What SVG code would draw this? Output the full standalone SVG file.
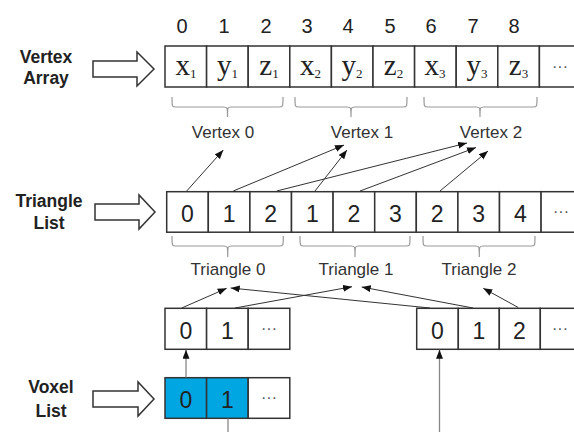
<svg xmlns="http://www.w3.org/2000/svg" width="574" height="432" viewBox="0 0 574 432">
<style>
.cell{fill:#fff;stroke:#333;stroke-width:1.5}
.blue{fill:#00a6e2;stroke:#333;stroke-width:1.5}
.var{font-family:"Liberation Serif",serif;font-size:29px;fill:#222;text-anchor:middle}
.sub{font-size:13px}
.dig{font-family:"Liberation Sans",Arial,sans-serif;font-size:23px;fill:#222;text-anchor:middle}
.idx{font-family:"Liberation Sans",Arial,sans-serif;font-size:20px;fill:#222;text-anchor:middle}
.dots{font-family:"Liberation Sans",Arial,sans-serif;font-size:16px;fill:#555;text-anchor:middle}
.lbl{font-family:"Liberation Sans",Arial,sans-serif;font-size:17.5px;font-weight:bold;fill:#222;text-anchor:middle}
.cap{font-family:"Liberation Sans",Arial,sans-serif;font-size:17px;fill:#333;text-anchor:middle}
.brace{fill:none;stroke:#999;stroke-width:1.2}
.big{fill:#fff;stroke:#333;stroke-width:1.5}
.conn{stroke:#333;stroke-width:1;fill:none}
.vx{stroke:#888;stroke-width:1.3;fill:none}
</style>
<defs>
<marker id="ah" markerUnits="userSpaceOnUse" markerWidth="10" markerHeight="8" refX="9" refY="3.5" orient="auto">
<path d="M0,0 L9,3.5 L0,7 z" fill="#111"/>
</marker>
</defs>

<g id="label-vertex-array">
<text class="lbl" x="46" y="63">Vertex</text>
<text class="lbl" x="46" y="84">Array</text>
<polygon class="big" points="93,61 137,61 137,52 154,69 137,86 137,77 93,77"/>
</g>
<g id="label-triangle-list">
<text class="lbl" x="49" y="207">Triangle</text>
<text class="lbl" x="49" y="229">List</text>
<polygon class="big" points="95,204 139,204 139,195 155,212 139,229 139,220 95,220"/>
</g>
<g id="label-voxel-list">
<text class="lbl" x="51" y="393">Voxel</text>
<text class="lbl" x="51" y="417">List</text>
<polygon class="big" points="93,391 138,391 138,382 154,399 138,416 138,407 93,407"/>
</g>

<g id="vertex-array">
<g class="idx">
<text x="182" y="33">0</text><text x="224" y="33">1</text><text x="266" y="33">2</text>
<text x="307" y="33">3</text><text x="348" y="33">4</text><text x="390" y="33">5</text>
<text x="431" y="33">6</text><text x="473" y="33">7</text><text x="514" y="33">8</text>
</g>
<rect class="cell" x="165" y="46" width="41.6" height="41"/>
<rect class="cell" x="206.6" y="46" width="41.6" height="41"/>
<rect class="cell" x="248.2" y="46" width="41.6" height="41"/>
<rect class="cell" x="289.8" y="46" width="41.6" height="41"/>
<rect class="cell" x="331.4" y="46" width="41.6" height="41"/>
<rect class="cell" x="373" y="46" width="41.6" height="41"/>
<rect class="cell" x="414.6" y="46" width="41.6" height="41"/>
<rect class="cell" x="456.2" y="46" width="41.6" height="41"/>
<rect class="cell" x="497.8" y="46" width="41.6" height="41"/>
<rect class="cell" x="539.4" y="46" width="41.6" height="41"/>
<text class="var" x="186" y="75">x<tspan class="sub" dy="3">1</tspan></text>
<text class="var" x="227.5" y="75">y<tspan class="sub" dy="3">1</tspan></text>
<text class="var" x="269" y="75">z<tspan class="sub" dy="3">1</tspan></text>
<text class="var" x="310.5" y="75">x<tspan class="sub" dy="3">2</tspan></text>
<text class="var" x="352" y="75">y<tspan class="sub" dy="3">2</tspan></text>
<text class="var" x="393.5" y="75">z<tspan class="sub" dy="3">2</tspan></text>
<text class="var" x="435" y="75">x<tspan class="sub" dy="3">3</tspan></text>
<text class="var" x="477" y="75">y<tspan class="sub" dy="3">3</tspan></text>
<text class="var" x="518.5" y="75">z<tspan class="sub" dy="3">3</tspan></text>
<text class="dots" x="560" y="72">···</text>
</g>

<g id="vertex-braces">
<path class="brace" d="M172,97 C172,107 172,107 176,107 H223.5 C227.5,107 227.5,107 227.5,117 C227.5,107 227.5,107 231.5,107 H279 C283,107 283,107 283,97"/>
<path class="brace" d="M295,97 C295,107 295,107 299,107 H347 C351,107 351,107 351,117 C351,107 351,107 355,107 H403 C407,107 407,107 407,97"/>
<path class="brace" d="M424,97 C424,107 424,107 428,107 H476 C480,107 480,107 480,117 C480,107 480,107 484,107 H533 C537,107 537,107 537,97"/>
<text class="cap" x="223" y="138">Vertex 0</text>
<text class="cap" x="362" y="138">Vertex 1</text>
<text class="cap" x="491" y="138">Vertex 2</text>
</g>

<g id="triangle-list">
<rect class="cell" x="166.7" y="191.7" width="41.6" height="40.5"/>
<rect class="cell" x="208.3" y="191.7" width="41.6" height="40.5"/>
<rect class="cell" x="249.9" y="191.7" width="41.6" height="40.5"/>
<rect class="cell" x="291.5" y="191.7" width="41.6" height="40.5"/>
<rect class="cell" x="333.1" y="191.7" width="41.6" height="40.5"/>
<rect class="cell" x="374.7" y="191.7" width="41.6" height="40.5"/>
<rect class="cell" x="416.3" y="191.7" width="41.6" height="40.5"/>
<rect class="cell" x="457.9" y="191.7" width="41.6" height="40.5"/>
<rect class="cell" x="499.5" y="191.7" width="41.6" height="40.5"/>
<rect class="cell" x="541.1" y="191.7" width="41.6" height="40.5"/>
<text class="dig" x="187.5" y="221.5">0</text>
<text class="dig" x="229.1" y="221.5">1</text>
<text class="dig" x="270.7" y="221.5">2</text>
<text class="dig" x="312.3" y="221.5">1</text>
<text class="dig" x="353.9" y="221.5">2</text>
<text class="dig" x="395.5" y="221.5">3</text>
<text class="dig" x="437.1" y="221.5">2</text>
<text class="dig" x="478.7" y="221.5">3</text>
<text class="dig" x="520.3" y="221.5">4</text>
<text class="dots" x="561" y="217">···</text>
</g>

<g id="triangle-braces">
<path class="brace" d="M172,236 C172,246 172,246 176,246 H223.7 C227.7,246 227.7,246 227.7,257 C227.7,246 227.7,246 231.7,246 H279.3 C283.3,246 283.3,246 283.3,236"/>
<path class="brace" d="M300,236 C300,246 300,246 304,246 H351 C355,246 355,246 355,257 C355,246 355,246 359,246 H406 C410,246 410,246 410,236"/>
<path class="brace" d="M423,236 C423,246 423,246 427,246 H475.3 C479.3,246 479.3,246 479.3,257 C479.3,246 479.3,246 483.3,246 H531 C535,246 535,246 535,236"/>
<text class="cap" x="228" y="275">Triangle 0</text>
<text class="cap" x="356" y="275">Triangle 1</text>
<text class="cap" x="479" y="275">Triangle 2</text>
</g>

<g id="voxel-tri-list-0">
<rect class="cell" x="165" y="308.3" width="41.6" height="41"/>
<rect class="cell" x="206.6" y="308.3" width="41.6" height="41"/>
<rect class="cell" x="248.2" y="308.3" width="41.6" height="41"/>
<text class="dig" x="186" y="338.5">0</text>
<text class="dig" x="227.5" y="338.5">1</text>
<text class="dots" x="269" y="334">···</text>
</g>

<g id="voxel-tri-list-1">
<rect class="cell" x="416.7" y="308.3" width="41.6" height="41"/>
<rect class="cell" x="458.3" y="308.3" width="41" height="41"/>
<rect class="cell" x="499.3" y="308.3" width="41" height="41"/>
<rect class="cell" x="540.3" y="308.3" width="41.6" height="41"/>
<text class="dig" x="437.5" y="338.5">0</text>
<text class="dig" x="479" y="338.5">1</text>
<text class="dig" x="519.5" y="338.5">2</text>
<text class="dots" x="560" y="334">···</text>
</g>

<g id="voxel-list">
<rect class="blue" x="165" y="377.7" width="41.6" height="40.6"/>
<rect class="blue" x="206.6" y="377.7" width="41.6" height="40.6"/>
<rect class="cell" x="248.2" y="377.7" width="41.6" height="40.6"/>
<text class="dig" x="186" y="407.5">0</text>
<text class="dig" x="227.5" y="407.5">1</text>
<text class="dots" x="269" y="403">···</text>
</g>

<g id="connectors">
<line class="conn" x1="186.7" y1="191" x2="223.3" y2="150" marker-end="url(#ah)"/>
<line class="conn" x1="233.3" y1="191" x2="344" y2="145" marker-end="url(#ah)"/>
<line class="conn" x1="276.7" y1="191" x2="467" y2="143" marker-end="url(#ah)"/>
<line class="conn" x1="315" y1="191" x2="347" y2="150" marker-end="url(#ah)"/>
<line class="conn" x1="360" y1="191" x2="476" y2="147.5" marker-end="url(#ah)"/>
<line class="conn" x1="440" y1="191" x2="488" y2="151" marker-end="url(#ah)"/>
<line class="conn" x1="181.7" y1="308" x2="226.7" y2="288.3" marker-end="url(#ah)"/>
<line class="conn" x1="430" y1="308" x2="230.7" y2="288" marker-end="url(#ah)"/>
<line class="conn" x1="235" y1="308" x2="352" y2="286.7" marker-end="url(#ah)"/>
<line class="conn" x1="473" y1="308" x2="361.7" y2="287" marker-end="url(#ah)"/>
<line class="conn" x1="518.3" y1="307.5" x2="483.3" y2="288.3" marker-end="url(#ah)"/>
<line class="vx" x1="186" y1="377.5" x2="186" y2="349.8" marker-end="url(#ah)"/>
<line class="vx" x1="439.5" y1="432" x2="439.5" y2="349.8" marker-end="url(#ah)"/>
<line class="vx" x1="228" y1="418.5" x2="228" y2="432"/>
</g>
</svg>
